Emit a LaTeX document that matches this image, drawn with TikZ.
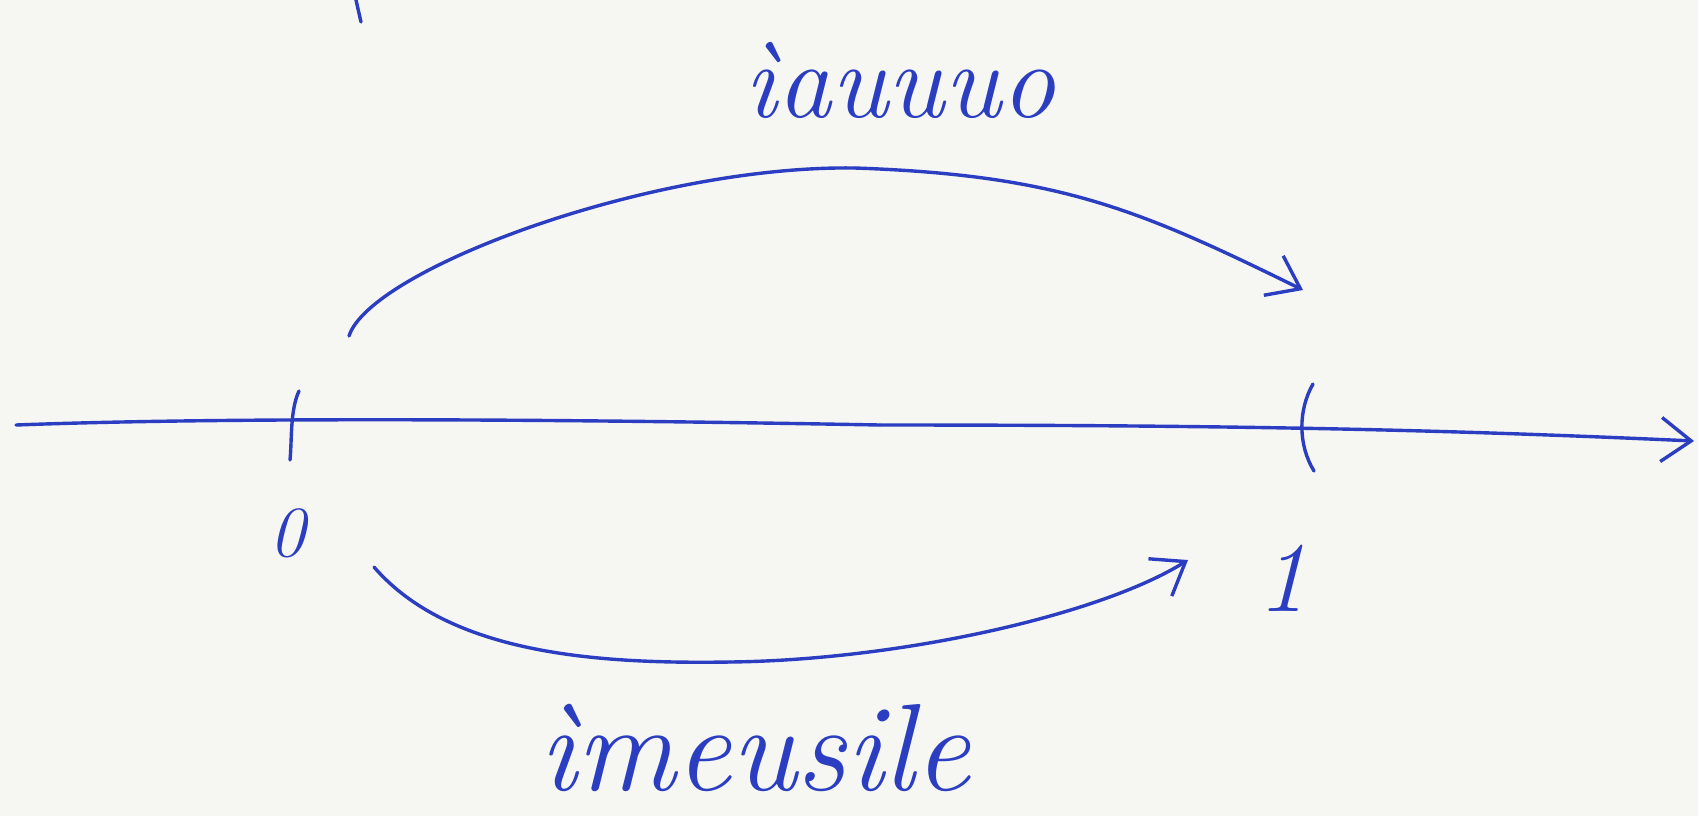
\documentclass[tikz,border=0pt]{standalone}
\usetikzlibrary{arrows.meta}
\definecolor{ink}{HTML}{2B3EC2}
\definecolor{paper}{HTML}{F6F7F2}
\tikzset{
  pen/.style={draw=ink, line width=1.7pt, line cap=round, line join=round},
  arr/.style={pen, -{Straight Barb[length=15pt, width=22pt, line width=1.7pt]}},
  hand/.style={text=ink, font=\itshape\fontsize{54}{58}\selectfont, inner sep=0pt},
  handbig/.style={text=ink, font=\itshape\fontsize{62}{66}\selectfont, inner sep=0pt},
  digit/.style={text=ink, font=\itshape\fontsize{36}{40}\selectfont, inner sep=0pt}
}
\begin{document}
\begin{tikzpicture}[x=0.5pt, y=-0.5pt]
\fill[paper] (0,0) rectangle (1698,816);
\useasboundingbox (0,0) rectangle (1698,816);
% axis
\coordinate (axL) at (16,425);
\coordinate (axM) at (880,425);
\coordinate (axR) at (1694,441);
\draw[pen] (axL) .. controls (200,418) and (500,418) .. (axM);
\draw[arr] (axM) .. controls (1250,425) and (1450,430) .. (axR);
% ticks
\coordinate (t0a) at (299,391);
\coordinate (t0b) at (290,460);
\draw[pen] (t0a) .. controls (290,410) and (292,440) .. (t0b);
\coordinate (t1a) at (1313,384);
\coordinate (t1b) at (1314,471);
\draw[pen] (t1a) .. controls (1298,410) and (1298,445) .. (t1b);
% labels 0 and 1
\node[digit] (zero) at (287,533) {0};
\node[digit, font=\itshape\fontsize{50}{54}\selectfont] (one) at (1282,578) {1};
% top arc
\coordinate (topS) at (349,336);
\coordinate (topM) at (855,168);
\coordinate (topE) at (1303,290);
\draw[pen] (topS) .. controls (370,270) and (650,165) .. (topM);
\draw[arr] (topM) .. controls (1060,175) and (1140,210) .. (topE);
% bottom arc
\coordinate (botS) at (374,567);
\coordinate (botM) at (730,662);
\coordinate (botE) at (1188,560);
\draw[pen] (botS) .. controls (450,655) and (600,664) .. (botM);
\draw[arr] (botM) .. controls (900,660) and (1100,615) .. (botE);
% stroke at top left
\coordinate (skA) at (356,0);
\coordinate (skB) at (361,22);
\draw[pen] (skA) -- (skB);
% words
\node[hand] (topword) at (900,80) {ìauuuo};
\node[handbig] (botword) at (755,748) {ìmeusile};
\end{tikzpicture}
\end{document}
